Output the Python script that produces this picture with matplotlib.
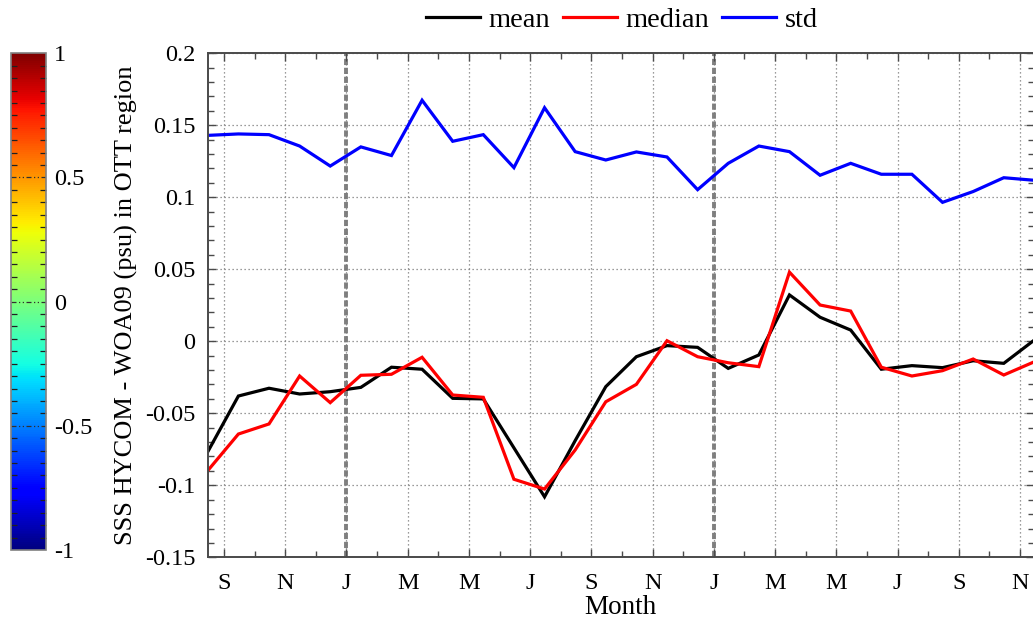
import numpy as np
import matplotlib
matplotlib.use("Agg")
import matplotlib.pyplot as plt
from matplotlib import cm, colors
from matplotlib.ticker import FixedLocator, MultipleLocator

plt.rcParams['font.family'] = ['Liberation Serif', 'DejaVu Serif']

# Monthly statistics, mid-month values from Aug (year 1) to Nov (year 3)
month_index = np.arange(-1, 27)          # 0 = September of the first year
mean_vals = [-0.0767, -0.038, -0.0326, -0.0366, -0.035, -0.032, -0.018, -0.0194,
             -0.0396, -0.040, -0.074, -0.108, -0.069, -0.0315, -0.0107, -0.003,
             -0.0042, -0.0188, -0.0095, 0.0322, 0.0167, 0.0078, -0.0194, -0.0169,
             -0.0183, -0.0135, -0.0153, 0.0009]
median_vals = [-0.0898, -0.0644, -0.0574, -0.0241, -0.0426, -0.0236, -0.0229, -0.0111,
               -0.0373, -0.0389, -0.0958, -0.1026, -0.0755, -0.042, -0.0299, 0.0004,
               -0.0107, -0.0149, -0.0176, 0.048, 0.0252, 0.021, -0.018, -0.0241,
               -0.0204, -0.0123, -0.0234, -0.0142]
std_vals = [0.143, 0.144, 0.1435, 0.1356, 0.1217, 0.135, 0.129, 0.1674, 0.1389,
            0.1435, 0.1206, 0.1622, 0.1317, 0.1259, 0.1315, 0.128, 0.1053, 0.1236,
            0.1356, 0.1317, 0.1153, 0.1236, 0.116, 0.116, 0.0965, 0.104, 0.1136,
            0.1118]

month_labels = ['S', 'N', 'J', 'M', 'M', 'J', 'S', 'N', 'J', 'M', 'M', 'J', 'S', 'N']
year_starts = [4, 16]                    # January of each year
y_ticks = [-0.15, -0.1, -0.05, 0, 0.05, 0.1, 0.15, 0.2]
y_labels = ['-0.15', '-0.1', '-0.05', '0', '0.05', '0.1', '0.15', '0.2']
cbar_ticks = [-1, -0.5, 0, 0.5, 1]
cbar_labels = ['-1', '-0.5', '0', '0.5', '1']

W, H = 1033, 619
fig = plt.figure(figsize=(W / 100, H / 100), dpi=100)

x = month_index + 0.47
x0, x1 = x[0], x[-1]
px_per_month = 30.615
left_px = 224 - 0.53 * px_per_month
right_px = 224 + 26.47 * px_per_month
top_px, bot_px = 53.3, 557.3
ax = fig.add_axes([left_px / W, 1 - bot_px / H, (right_px - left_px) / W, (bot_px - top_px) / H])

spine_col = '#4a4a4a'
grid_col = '#7a7a7a'

ax.plot(x, mean_vals, color='black', lw=2.3, label='mean', solid_joinstyle='miter')
ax.plot(x, median_vals, color='#ff0000', lw=2.3, label='median', solid_joinstyle='miter')
ax.plot(x, std_vals, color='#0000ff', lw=2.3, label='std', solid_joinstyle='miter')

for xs in year_starts:
    ax.axvline(xs, color='#808080', lw=2.8, linestyle=(0, (1.6, 0.7)), zorder=1)

ax.set_xlim(x0, x1)
ax.set_ylim(-0.15, 0.2)

major_x = np.arange(0, 27, 2)
ax.xaxis.set_major_locator(FixedLocator(major_x))
ax.set_xticklabels(month_labels)
ax.xaxis.set_minor_locator(FixedLocator(np.arange(1, 27, 2)))
ax.yaxis.set_major_locator(FixedLocator(y_ticks))
ax.set_yticklabels(y_labels)
ax.yaxis.set_minor_locator(MultipleLocator(0.01))

ax.tick_params(which='both', direction='in', top=True, right=True, color=spine_col,
               labelsize=17.5)
ax.tick_params(which='major', length=6, width=1.0)
ax.tick_params(which='minor', length=4, width=1.0)
ax.tick_params(axis='x', which='major', pad=11)
ax.tick_params(axis='y', which='major', pad=9)

ax.grid(True, which='major', color=grid_col, linestyle=(0, (1, 2.2)), lw=0.9, zorder=0)
for s in ax.spines.values():
    s.set_color(spine_col)
    s.set_linewidth(1.4)

fig.text(620 / W, 1 - 607 / H, 'Month', ha='center', va='center', fontsize=19.5)

fig.text(126 / W, 1 - 305 / H, 'SSS HYCOM - WOA09 (psu) in OTT region',
         rotation=90, ha='center', va='center', fontsize=19)

# Colour bar on the left
cax = fig.add_axes([11 / W, 1 - 550 / H, 35 / W, (550 - 53.3) / H])
sm = cm.ScalarMappable(norm=colors.Normalize(-1, 1), cmap='jet')
cb = fig.colorbar(sm, cax=cax, orientation='vertical')
cb.set_ticks(cbar_ticks)
cb.set_ticklabels(cbar_labels)
cb.outline.set_edgecolor('#808080')
cb.outline.set_linewidth(1.2)
cax.yaxis.set_minor_locator(MultipleLocator(0.05))
cax.tick_params(which='both', direction='in', left=True, right=True, color='#202020')
cax.tick_params(which='major', length=0, labelsize=17.5, pad=6)
cax.tick_params(which='minor', length=4, width=0.9)
for t in [-0.5, 0, 0.5]:
    cax.axhline(t, color='#303030', lw=0.9, linestyle=(0, (4, 2, 1, 2, 1, 2)))

fig.legend(loc='upper center', bbox_to_anchor=(622 / W, 1.03), ncol=3, frameon=False,
           fontsize=20.5, handlelength=1.9, handletextpad=0.3, columnspacing=0.45)

fig.savefig('out.png', dpi=100)
